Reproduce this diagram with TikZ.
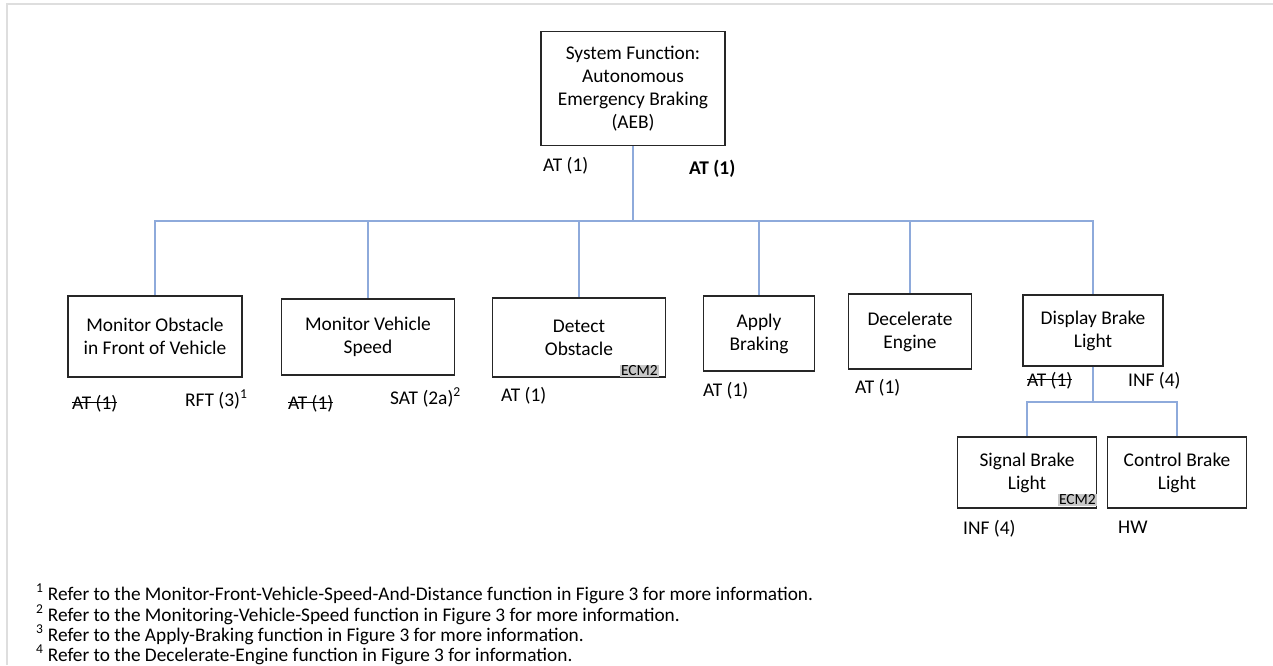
\documentclass[tikz,border=0pt]{standalone}
\usepackage{fontspec}
\setmainfont{Carlito}
% struck-through text
\newcommand{\strk}[1]{\setbox0=\hbox{#1}\rlap{\rule[0.3em]{\wd0}{0.07em}}\box0}
\definecolor{linkblue}{RGB}{142,170,219}
\definecolor{taggray}{RGB}{200,200,200}
\definecolor{framegray}{RGB}{222,222,222}
\begin{document}
\begin{tikzpicture}[x=1pt,y=-1pt,
  fn/.style={draw=black!85,line width=1.3pt,align=center,inner sep=0pt,
    font=\fontsize{19.4}{23}\selectfont},
  link/.style={draw=linkblue,line width=1.1pt},
  lbl/.style={anchor=base west,inner sep=0pt,font=\fontsize{19.4}{22}\selectfont},
  tag/.style={anchor=south east,fill=taggray,inner xsep=1.2pt,inner ysep=1pt,
    font=\fontsize{15.5}{15.5}\selectfont},
  note/.style={anchor=base west,inner sep=0pt,font=\fontsize{19.3}{21}\selectfont}]
  \useasboundingbox (0,0) rectangle (1273,665);
  % page frame
  \draw[draw=framegray,line width=2.5pt] (7,665) -- (7,4) -- (1273,4);

  % functions
  \node[fn,minimum width=184pt,minimum height=114pt] (root) at (633,88.5)
    {System Function:\\Autonomous\\Emergency Braking\\(AEB)};
  \node[fn,minimum width=174pt,minimum height=81pt] (mo) at (155,336.5)
    {Monitor Obstacle\\in Front of Vehicle};
  \node[fn,minimum width=173pt,minimum height=76pt] (mv) at (368,337)
    {Monitor Vehicle\\Speed};
  \node[fn,minimum width=173pt,minimum height=79pt] (det) at (579,337.5)
    {Detect\\Obstacle};
  \node[fn,minimum width=111pt,minimum height=75pt] (ab) at (759,333.5)
    {Apply\\Braking};
  \node[fn,minimum width=123pt,minimum height=75pt] (de) at (910,331.5)
    {Decelerate\\Engine};
  \node[fn,minimum width=140pt,minimum height=71pt] (dbl) at (1093,330.5)
    {Display Brake\\Light};
  \node[fn,minimum width=139pt,minimum height=71pt] (sbl) at (1027,472.5)
    {Signal Brake\\Light};
  \node[fn,minimum width=139pt,minimum height=71pt] (cbl) at (1177,472.5)
    {Control Brake\\Light};

  % allocation tags
  \node[tag] (tagdet) at ([xshift=-7pt,yshift=0.6pt]det.south east) {ECM2};
  \node[tag] (tagsbl) at ([yshift=2.5pt]sbl.south east) {ECM2};

  % decomposition links
  \coordinate (bus) at (633,221);
  \coordinate (sub) at (1093,402);
  \draw[link] (root.south) -- (bus);
  \foreach \c in {mo,mv,det,ab,de,dbl} \draw[link] (bus) -| (\c.north);
  \draw[link] (dbl.south) -- (sub);
  \draw[link] (sub) -| (sbl.north);
  \draw[link] (sub) -| (cbl.north);

  % test labels
  \node[lbl] (l0a) at (543,171) {AT (1)};
  \node[lbl,font=\fontsize{19.4}{22}\selectfont\bfseries] (l0b) at (689,174) {AT (1)};
  \node[lbl] (l1a) at (72,409) {\strk{AT (1)}};
  \node[lbl] (l1b) at (185,406) {RFT (3)\textsuperscript{1}};
  \node[lbl] (l2a) at (288,409) {\strk{AT (1)}};
  \node[lbl] (l2b) at (390,404) {SAT (2a)\textsuperscript{2}};
  \node[lbl] (l3) at (501,401) {AT (1)};
  \node[lbl] (l4) at (703,396) {AT (1)};
  \node[lbl] (l5) at (855,393) {AT (1)};
  \node[lbl] (l6a) at (1027,386) {\strk{AT (1)}};
  \node[lbl] (l6b) at (1128,386) {INF (4)};
  \node[lbl] (l7) at (963,534) {INF (4)};
  \node[lbl] (l8) at (1118,533) {HW};

  % notes
  \node[note] (n1) at (36,600) {\textsuperscript{1} Refer to the Monitor-Front-Vehicle-Speed-And-Distance function in Figure 3 for more information.};
  \node[note] (n2) at (36,621) {\textsuperscript{2} Refer to the Monitoring-Vehicle-Speed function in Figure 3 for more information.};
  \node[note] (n3) at (36,641) {\textsuperscript{3} Refer to the Apply-Braking function in Figure 3 for more information.};
  \node[note] (n4) at (36,661) {\textsuperscript{4} Refer to the Decelerate-Engine function in Figure 3 for information.};
\end{tikzpicture}
\end{document}
